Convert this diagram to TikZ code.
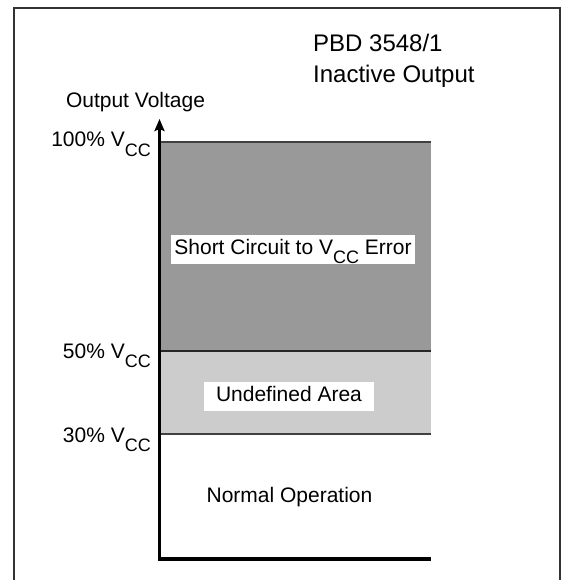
\documentclass[tikz,border=0pt]{standalone}
\usepackage{fontspec}
\setmainfont{Liberation Sans}
\usetikzlibrary{arrows.meta}
\definecolor{darkfill}{HTML}{999999}
\definecolor{lightfill}{HTML}{CCCCCC}
\definecolor{framecol}{HTML}{333333}
\definecolor{edgecol}{HTML}{404040}
\newcommand\vccsub{V\raisebox{-9.5pt}{\fontsize{18}{18}\selectfont CC}}
\tikzset{
  lbl/.style={font=\fontsize{21}{21}\selectfont, inner sep=0pt},
  ttl/.style={font=\fontsize{24}{24}\selectfont, inner sep=0pt, anchor=base west},
  lvl/.style={lbl, anchor=base east},
  wbox/.style={lbl, fill=white, anchor=base, align=center},
  bandedge/.style={draw=edgecol, line width=1.4pt},
}
\begin{document}
\begin{tikzpicture}[x=1pt,y=-1pt]
\useasboundingbox (0,0) rectangle (565,580);
% frame
\draw[framecol, line width=1.3pt] (14,580) -- (14,8) -- (560,8) -- (560,580);
% bands
\fill[darkfill] (160,142) rectangle (431,351);
\fill[lightfill] (160,351) rectangle (431,434);
\draw[bandedge] (160,142) -- (431,142);
\draw[draw=black!85, line width=1.4pt] (160,351) -- (431,351);
\draw[bandedge] (160,434) -- (431,434);
% axes
\coordinate (tip) at (159.5,119);
\coordinate (org) at (159.5,559);
\coordinate (xend) at (431,559);
\draw[line width=3.8pt, line join=miter, {Stealth[length=12pt,width=10pt,inset=2pt]}-] (tip) -- (org) -- (xend);
% titles
\node[ttl] (t1) at (313,52) {PBD 3548/1};
\node[ttl] (t2) at (313,82.7) {Inactive Output};
\node[lbl, anchor=base] (yl) at (135.5,107.5) {Output Voltage};
% level labels
\node[lvl] (l100) at (151,147) {100\% \vccsub};
\node[lvl] (l50) at (151,358) {50\% \vccsub};
\node[lvl] (l30) at (151,442) {30\% \vccsub};
% region labels
\node[wbox, minimum width=244pt, text height=19.3pt, text depth=9.7pt] (sc) at (293,254.3) {Short Circuit to \vccsub{} Error};
\node[wbox, minimum width=170pt, text height=19pt, text depth=10pt] (ua) at (289,401) {Undefined Area};
\node[lbl, anchor=base] (no) at (289.5,502) {Normal Operation};
\end{tikzpicture}
\end{document}
